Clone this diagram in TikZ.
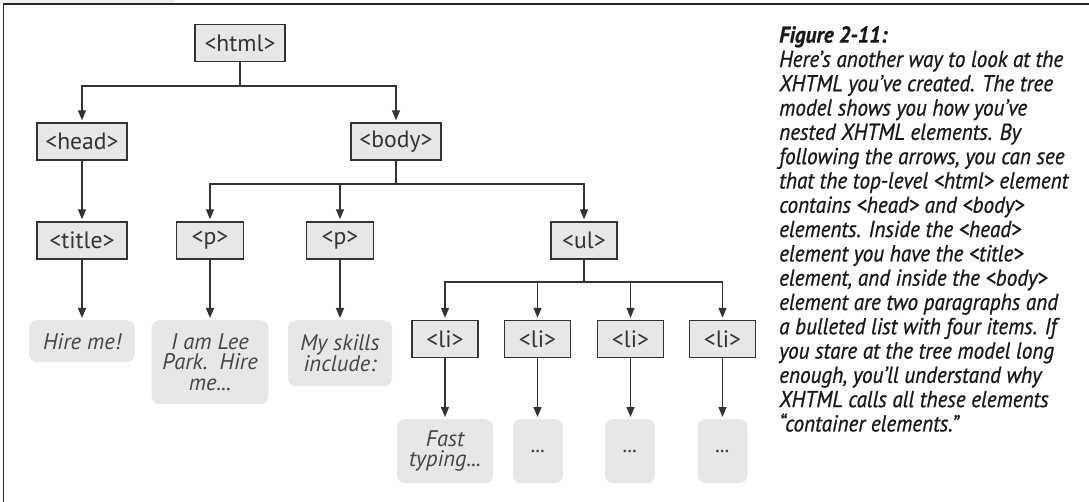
\documentclass[tikz,border=0pt]{standalone}
\usepackage{fontspec}
\usepackage{tikz}
\setmainfont{PT Sans}
\usetikzlibrary{arrows.meta,calc}

\definecolor{boxgray}{HTML}{E6E7E8}
\definecolor{linegray}{HTML}{333333}
\definecolor{leaftext}{HTML}{454545}

% font sizes fitted to the widths of the printed labels
\newlength\reflen
\settowidth\reflen{\fontsize{20}{20}\selectfont <html>}
\pgfmathsetmacro\tagsize{20*71/\reflen}
\settowidth\reflen{\fontsize{20}{20}\selectfont\itshape Hire me!}
\pgfmathsetmacro\leafsize{20*78/\reflen}
\settowidth\reflen{\fontsize{23}{23}\selectfont\itshape Here’s another way to look at the}
\pgfmathsetmacro\capstretch{284/\reflen}
\edef\tmp{\noexpand\newfontfamily\noexpand\capfont[FakeStretch=\capstretch,FakeBold=0.8]{PT Sans}}\tmp

\begin{document}
\begin{tikzpicture}[x=1pt,y=-1pt,>={Triangle[width=8pt,length=10pt]},
    tag/.style={draw=linegray,fill=boxgray,line width=1.4pt,minimum width=90pt,
                minimum height=37pt,inner sep=0pt,text=black!80,
                font=\fontsize{\tagsize}{\tagsize}\selectfont},
    leaf/.style={fill=boxgray,rounded corners=8pt,inner sep=0pt,anchor=north,
                 align=center,text=leaftext,font=\fontsize{\leafsize}{20.5}\selectfont\itshape},
    link/.style={->,draw=linegray,line width=1.3pt,shorten >=2pt}]

  \useasboundingbox (0,0) rectangle (1089,502);

  % frame
  \fill[gray!12] (0,0) rectangle (175,3);
  \draw[line width=1.5pt,black!85] (1089,4) -- (3.5,4) -- (3.5,502);

  % tags
  \node[tag] (html)  at (240,43)    {<html>};
  \node[tag] (head)  at (82,141.5)  {<head>};
  \node[tag] (body)  at (396,141.5) {<body>};
  \node[tag] (title) at (82,240.5)  {<title>};
  \node[tag,minimum width=67pt] (p1) at (210,240.5) {<p>};
  \node[tag,minimum width=67pt] (p2) at (340,240.5) {<p>};
  \node[tag,minimum width=66pt] (ul) at (584,240.5) {<ul>};
  \node[tag,minimum width=66pt] (li1) at (445,339)   {<li>};
  \node[tag,minimum width=66pt] (li2) at (537.5,339) {<li>};
  \node[tag,minimum width=66pt] (li3) at (630.5,339) {<li>};
  \node[tag,minimum width=66pt] (li4) at (722.5,339) {<li>};

  % contents
  \node[leaf,minimum width=106pt,minimum height=42pt] (hire)   at (82,320)  {Hire me!};
  \node[leaf,minimum width=117pt,minimum height=84pt] (lee)    at (210,320) {I am Lee\\Park.\ \ Hire\\me...};
  \node[leaf,minimum width=104pt,minimum height=66pt] (skills) at (340,320) {My skills\\include:};
  \node[leaf,minimum width=96pt,minimum height=64pt]  (fast)   at (445,419) {Fast\\typing...};
  \node[leaf,minimum width=50pt,minimum height=64pt]  (dots2)  at (538,419) {...};
  \node[leaf,minimum width=50pt,minimum height=64pt]  (dots3)  at (630,419) {...};
  \node[leaf,minimum width=50pt,minimum height=64pt]  (dots4)  at (722.5,419) {...};

  % branch points
  \coordinate (hb) at (240,86);
  \coordinate (bb) at (396,184);
  \coordinate (ub) at (584,282);

  \draw[link] (html.south) -- (hb) -| (head.north);
  \draw[link] (hb) -| (body.north);
  \draw[link] (head) -- (title);
  \draw[link] (body.south) -- (bb) -| (p1.north);
  \draw[link] (bb) -| (p2.north);
  \draw[link] (bb) -| (ul.north);
  \draw[link] (ul.south) -- (ub) -| (li1.north);
  \draw[link] (ub) -| (li2.north);
  \draw[link] (ub) -| (li3.north);
  \draw[link] (ub) -| (li4.north);

  \draw[link] (title) -- (hire);
  \draw[link] (p1) -- (lee);
  \draw[link] (p2) -- (skills);
  \draw[link] (li1) -- (fast);
  \draw[link] (li2.south) -- (li2.south |- dots2.north);
  \draw[link] (li3.south) -- (li3.south |- dots3.north);
  \draw[link] (li4) -- (dots4);

  % caption
  \node[anchor=north west,align=left,inner sep=0pt,text=black!90,
        font=\capfont\fontsize{23}{24.3}\selectfont\itshape] (cap) at (779,26)
    {\textbf{Figure 2-11:}\\
     Here’s another way to look at the\\
     XHTML you’ve created. The tree\\
     model shows you how you’ve\\
     nested XHTML elements. By\\
     following the arrows, you can see\\
     that the top-level <html> element\\
     contains <head> and <body>\\
     elements. Inside the <head>\\
     element you have the <title>\\
     element, and inside the <body>\\
     element are two paragraphs and\\
     a bulleted list with four items. If\\
     you stare at the tree model long\\
     enough, you’ll understand why\\
     XHTML calls all these elements\\
     “container elements.”};
\end{tikzpicture}
\end{document}
